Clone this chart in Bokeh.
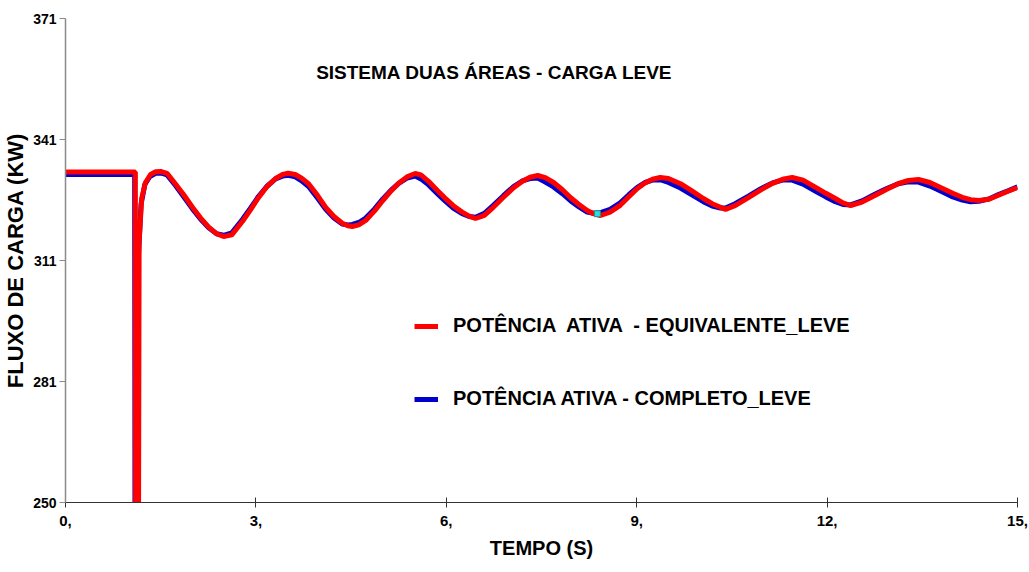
from bokeh.plotting import figure
from bokeh.models import FixedTicker, Label, Legend, LegendItem
from bokeh.embed import file_html
from bokeh.resources import INLINE

# ---- data ----
t_red = [0, 1.10, 1.105, 1.15, 1.16, 1.20, 1.26, 1.34, 1.42, 1.50, 1.60, 1.73, 1.86, 2.00, 2.13, 2.26,
         2.38, 2.49, 2.62, 2.79, 2.92, 3.04, 3.17, 3.31, 3.42, 3.51, 3.62, 3.72, 3.83, 3.97, 4.10,
         4.23, 4.36, 4.45, 4.52, 4.62, 4.73, 4.87, 5.00, 5.13, 5.25, 5.38, 5.51, 5.60, 5.72, 5.86,
         5.98, 6.11, 6.25, 6.36, 6.46, 6.60, 6.74, 6.90, 7.06, 7.20, 7.32, 7.44, 7.56, 7.69, 7.83,
         7.96, 8.09, 8.22, 8.32, 8.43, 8.58, 8.74, 8.88, 9.01, 9.13, 9.25, 9.37, 9.50, 9.69, 9.87,
         10.05, 10.19, 10.32, 10.40, 10.55, 10.76, 10.95, 11.14, 11.30, 11.45, 11.62, 11.82, 11.98,
         12.13, 12.25, 12.37, 12.55, 12.76, 12.94, 13.12, 13.28, 13.44, 13.62, 13.82, 13.98, 14.13,
         14.26, 14.39, 14.55, 14.70, 14.85, 15.0]
p_red = [332.6, 332.6, 240, 240, 315.0, 326.0, 330.0, 332.0, 332.7, 332.75, 332.3, 329.7, 327.0, 323.8, 321.1, 318.8,
         317.2, 316.5, 316.9, 320.3, 323.3, 326.2, 328.9, 331.0, 332.0, 332.3, 332.0, 331.1, 329.7, 326.8, 323.8,
         321.5, 319.8, 319.2, 319.0, 319.4, 320.5, 322.9, 325.5, 327.9, 329.8, 331.4, 332.25, 331.9, 330.3, 328.0,
         326.1, 324.2, 322.6, 321.6, 321.0, 321.8, 323.8, 326.3, 328.7, 330.3, 331.3, 331.75, 331.2, 330.0, 328.2,
         326.2, 324.5, 323.0, 322.2, 321.75, 322.6, 324.3, 326.5, 328.5, 329.9, 330.8, 331.25, 331.0, 329.7, 327.9,
         326.0, 324.7, 323.8, 323.3, 324.2, 326.2, 328.1, 329.8, 330.8, 331.25, 330.6, 328.8, 327.3,
         326.0, 324.9, 324.25, 325.1, 326.8, 328.3, 329.7, 330.5, 330.75, 330.0, 328.5, 327.3, 326.3,
         325.7, 325.5, 325.8, 326.8, 327.8, 328.75]

t_blue = [0, 1.09, 1.095, 1.14, 1.15, 1.19, 1.25, 1.33, 1.42, 1.50, 1.60, 1.73, 1.86, 2.00, 2.13, 2.26,
          2.38, 2.49, 2.62, 2.79, 2.92, 3.04, 3.17, 3.31, 3.42, 3.51, 3.62, 3.72, 3.83, 3.97, 4.10,
          4.23, 4.36, 4.45, 4.52, 4.62, 4.73, 4.87, 5.00, 5.13, 5.25, 5.38, 5.51, 5.60, 5.72, 5.86,
          5.98, 6.11, 6.25, 6.36, 6.46, 6.60, 6.74, 6.90, 7.06, 7.20, 7.32, 7.44, 7.56, 7.69, 7.83,
          7.96, 8.09, 8.22, 8.32, 8.43, 8.58, 8.74, 8.88, 9.01, 9.13, 9.25, 9.37, 9.50, 9.69, 9.87,
          10.05, 10.19, 10.32, 10.40, 10.55, 10.76, 10.95, 11.14, 11.30, 11.45, 11.62, 11.82, 11.98,
          12.13, 12.25, 12.37, 12.55, 12.76, 12.94, 13.12, 13.28, 13.44, 13.62, 13.82, 13.98, 14.13,
          14.26, 14.39, 14.55, 14.70, 14.85, 15.0]
p_blue = [332.0, 332.0, 240, 240, 312.0, 324.5, 329.5, 331.5, 332.3, 332.4, 331.9, 329.3, 326.5, 323.4, 320.8, 318.6,
          317.2, 316.8, 317.4, 320.8, 323.7, 326.5, 329.0, 330.9, 331.6, 331.8, 331.4, 330.4, 329.0, 326.1, 323.3,
          321.1, 319.6, 319.4, 319.5, 320.0, 321.1, 323.4, 325.9, 328.1, 329.8, 331.1, 331.6, 330.9, 329.4, 327.2,
          325.4, 323.6, 322.2, 321.5, 321.3, 322.3, 324.3, 326.7, 329.0, 330.4, 331.0, 331.1, 330.1, 328.9, 327.2,
          325.4, 323.9, 322.6, 322.3, 322.5, 323.3, 324.9, 327.0, 328.8, 330.0, 330.6, 330.7, 330.0, 328.6, 326.9,
          325.2, 324.1, 323.6, 323.6, 324.7, 326.6, 328.4, 329.9, 330.6, 330.6, 329.6, 327.8, 326.4,
          325.2, 324.5, 324.4, 325.4, 327.1, 328.5, 329.7, 330.2, 330.1, 329.1, 327.6, 326.4, 325.6,
          325.2, 325.3, 325.9, 327.0, 327.9, 328.9]

marker_t = [8.38]
marker_p = [322.2]

x_ticks = [0, 3, 6, 9, 12, 15]
x_tick_labels = ["0,", "3,", "6,", "9,", "12,", "15,"]
y_ticks = [250, 280.25, 310.5, 340.75, 371]
y_tick_labels = ["250", "281", "311", "341", "371"]

title_text = "SISTEMA DUAS ÁREAS - CARGA LEVE"
legend_red = "POTÊNCIA  ATIVA  - EQUIVALENTE_LEVE"
legend_blue = "POTÊNCIA ATIVA - COMPLETO_LEVE"
x_label = "TEMPO (S)"
y_label = "FLUXO DE CARGA (KW)"

FONT = "Liberation Sans"

p = figure(width=1029, height=572, output_backend="svg", toolbar_location=None,
           x_range=(0, 15), y_range=(250, 371),
           min_border_left=65, min_border_right=12, min_border_top=18, min_border_bottom=70)
p.outline_line_color = None
p.xgrid.visible = False
p.ygrid.visible = False
p.background_fill_color = "white"

rb = p.line(t_blue, p_blue, line_color="#0000cc", line_width=5)
rr = p.line(t_red, p_red, line_color="#ff0000", line_width=5)
p.scatter(marker_t, marker_p, marker="square", size=6, fill_color="#22e0e0", line_color="#2a8a8a", line_width=1)

# axes
xa = p.xaxis[0]
xa.ticker = FixedTicker(ticks=x_ticks)
xa.major_label_overrides = {k: v for k, v in zip(x_ticks, x_tick_labels)}
xa.minor_tick_line_color = None
xa.axis_line_color = "#333333"
xa.axis_line_width = 1.2
xa.major_tick_line_color = "#333333"
xa.major_tick_in = 5
xa.major_tick_out = 5
xa.major_label_standoff = 8
xa.major_label_text_font = FONT
xa.major_label_text_font_style = "bold"
xa.major_label_text_font_size = "15px"
xa.major_label_text_color = "black"
xa.axis_label = x_label
xa.axis_label_text_font = FONT
xa.axis_label_text_font_style = "bold"
xa.axis_label_text_font_size = "20px"
xa.axis_label_text_color = "black"
xa.axis_label_standoff = 8

ya = p.yaxis[0]
ya.ticker = FixedTicker(ticks=y_ticks)
ya.major_label_overrides = {k: v for k, v in zip(y_ticks, y_tick_labels)}
ya.minor_tick_line_color = None
ya.axis_line_color = "#8a8a8a"
ya.axis_line_width = 1.5
ya.major_tick_line_color = "#8a8a8a"
ya.major_tick_in = 0
ya.major_tick_out = 6
ya.major_label_standoff = 3
ya.major_label_text_font = FONT
ya.major_label_text_font_style = "bold"
ya.major_label_text_font_size = "14px"
ya.major_label_text_color = "black"
ya.axis_label = y_label
ya.axis_label_text_font = FONT
ya.axis_label_text_font_style = "bold"
ya.axis_label_text_font_size = "22px"
ya.axis_label_text_color = "black"
ya.axis_label_standoff = 2

p.add_layout(Label(x=6.76, y=357.5, text=title_text, text_align="center", text_baseline="middle",
                   text_font=FONT, text_font_style="bold", text_font_size="19px", text_color="black"))

legend = Legend(items=[LegendItem(label=legend_red, renderers=[rr]),
                       LegendItem(label=legend_blue, renderers=[rb])],
                location=(349, 92), orientation="vertical",
                glyph_width=24, glyph_height=20, label_height=20, spacing=50,
                label_standoff=15, padding=0, margin=0,
                border_line_color=None, background_fill_alpha=0,
                label_text_font=FONT, label_text_font_style="bold",
                label_text_font_size="20px", label_text_color="black")
p.add_layout(legend)

open("out.html", "w").write(file_html(p, INLINE))
